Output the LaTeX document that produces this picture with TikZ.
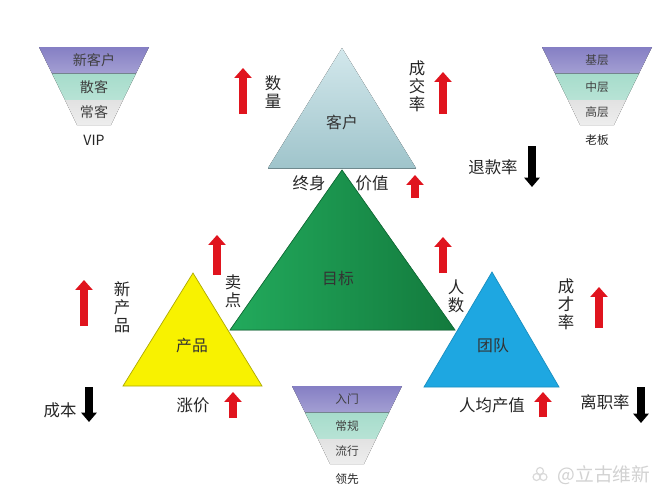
\documentclass[tikz,border=0pt]{standalone}
\usepackage{fontspec}
\setmainfont{Noto Sans CJK SC}
\usepackage{xcolor}
\usetikzlibrary{arrows.meta}
\definecolor{upred}{HTML}{E0141E}
\definecolor{funpurple}{HTML}{857FC4}
\definecolor{funteal}{HTML}{A6DCCB}
\definecolor{fungray}{HTML}{E2E2E2}
\definecolor{kehutop}{HTML}{D3E8EC}
\definecolor{kehubot}{HTML}{9FC4CB}
\definecolor{goalgreen}{HTML}{22AA5C}
\definecolor{goaldark}{HTML}{137A3D}
\definecolor{teamblue}{HTML}{1EA7E1}
\definecolor{prodyellow}{HTML}{F8F200}

\begin{document}
\begin{tikzpicture}[x=0.03cm,y=-0.03cm,
  lbl/.style={font=\fontsize{14}{15.5}\selectfont,align=center,inner sep=0pt,text=black!85},
  tritext/.style={font=\fontsize{13.5}{15}\selectfont,inner sep=0pt,text=black!80},
  uparrow/.style={draw=upred,line width=7pt,-{Triangle[length=8.5pt,width=14.5pt]}},
  downarrow/.style={draw=black,line width=6pt,-{Triangle[length=8pt,width=13pt]}}
]
\useasboundingbox[fill=white] (0,0) rectangle (668,500);

% funnels
\foreach \cx/\cy/\fs/\ta/\tb/\tc/\td in {94/47/12/新客户/散客/常客/VIP,
    597/47/10/基层/中层/高层/老板, 347/386/10/入门/常规/流行/领先} {
  \fill[top color=funpurple, bottom color=funpurple!75!white]
    (\cx-55,\cy) -- (\cx+55,\cy) -- (\cx+42,\cy+26.5) -- (\cx-42,\cy+26.5) -- cycle;
  \fill[top color=funteal, bottom color=funteal!80!white]
    (\cx-42,\cy+26.5) -- (\cx+42,\cy+26.5) -- (\cx+29,\cy+53) -- (\cx-29,\cy+53) -- cycle;
  \fill[top color=fungray, bottom color=fungray!60!white]
    (\cx-29,\cy+53) -- (\cx+29,\cy+53) -- (\cx+17,\cy+78) -- (\cx-17,\cy+78) -- cycle;
  \node[font=\fontsize{\fs}{\fs}\selectfont,text=black!75] (fa\cx) at (\cx,\cy+13.5) {\ta};
  \node[font=\fontsize{\fs}{\fs}\selectfont,text=black!75] (fb\cx) at (\cx,\cy+40) {\tb};
  \node[font=\fontsize{\fs}{\fs}\selectfont,text=black!75] (fc\cx) at (\cx,\cy+65.5) {\tc};
  \node[font=\fontsize{\fs}{\fs}\selectfont,text=black!85] (fd\cx) at (\cx,\cy+93) {\td};
}

% triangles
\fill[top color=kehutop, bottom color=kehubot] (342,48) -- (416,168) -- (268,168) -- cycle;
\draw[kehubot!70!black,line width=0.8pt] (268,168) -- (416,168);
\node[tritext] (kehu) at (342,122) {客户};

\fill[prodyellow,draw=prodyellow!70!black,line width=0.6pt] (193,273) -- (262,386) -- (123,386) -- cycle;
\node[tritext] (chanpin) at (192,346) {产品};

\fill[teamblue,draw=teamblue!85!black,line width=0.6pt] (492,272) -- (559,387) -- (424,387) -- cycle;
\node[tritext] (tuandui) at (493,346) {团队};

\fill[left color=goalgreen, right color=goaldark,draw=goaldark!90!black,line width=0.6pt]
  (342,170) -- (455,330) -- (230,330) -- cycle;
\node[tritext] (mubiao) at (338,278) {目标};

% labels
\node[lbl] (shuliang) at (273,92) {数\\量};
\node[lbl] (chengjiao) at (417,86) {成\\交\\率};
\node[lbl] (zhongshen) at (309,183) {终身};
\node[lbl] (jiazhi) at (372,183) {价值};
\node[lbl] (tuikuan) at (493,167) {退款率};
\node[lbl] (renshu) at (456,296) {人\\数};
\node[lbl] (chengcai) at (566,304) {成\\才\\率};
\node[lbl] (renjun) at (492,405) {人均产值};
\node[lbl] (lizhi) at (605,402) {离职率};
\node[lbl] (xinchanpin) at (122,307) {新\\产\\品};
\node[lbl] (maidian) at (233,291) {卖\\点};
\node[lbl] (chengben) at (60,410) {成本};
\node[lbl] (zhangjia) at (193,405) {涨价};

% indicator arrows
\draw[uparrow] (243,114) -- (243,68);
\draw[uparrow] (443,114) -- (443,72);
\draw[uparrow] (415,198) -- (415,175);
\draw[uparrow] (443,273) -- (443,237);
\draw[uparrow] (599,328) -- (599,287);
\draw[uparrow] (543,417) -- (543,392);
\draw[uparrow] (84,326) -- (84,280);
\draw[uparrow] (217,275) -- (217,235);
\draw[uparrow] (233,418) -- (233,392);
\draw[downarrow] (532,146) -- (532,187);
\draw[downarrow] (641,387) -- (641,423);
\draw[downarrow] (89,387) -- (89,422);

% watermark
\foreach \a in {90,210,330}
  \draw[gray!30,line width=1pt] (540,475) ++(\a:-4) circle (3.5);
\node[font=\fontsize{16}{16}\selectfont,text=gray!35] (mark) at (604,475) {@立古维新};
\end{tikzpicture}
\end{document}
